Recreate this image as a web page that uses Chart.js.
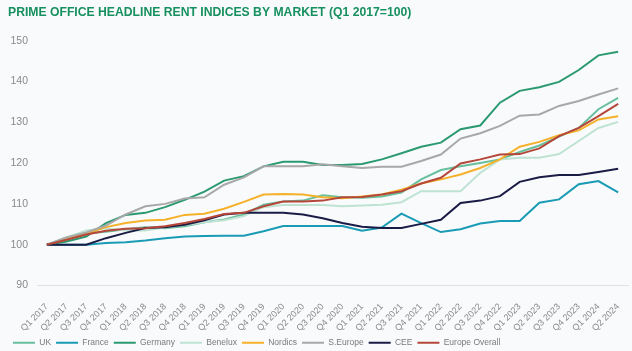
<!DOCTYPE html>
<html>
<head>
<meta charset="utf-8">
<script src="https://cdn.jsdelivr.net/npm/chart.js@4.4.1/dist/chart.umd.min.js"></script>
<style>
  html, body { margin: 0; padding: 0; background: #f9fafc; }
  #wrap { width: 632px; height: 351px; }
</style>
</head>
<body>
<div id="wrap"><canvas id="myChart" width="632" height="351"></canvas></div>
<script>
const quarters = [
  "Q1 2017", "Q2 2017", "Q3 2017", "Q4 2017", "Q1 2018", "Q2 2018", "Q3 2018", "Q4 2018",
  "Q1 2019", "Q2 2019", "Q3 2019", "Q4 2019", "Q1 2020", "Q2 2020", "Q3 2020", "Q4 2020",
  "Q1 2021", "Q2 2021", "Q3 2021", "Q4 2021", "Q1 2022", "Q2 2022", "Q3 2022", "Q4 2022",
  "Q1 2023", "Q2 2023", "Q3 2023", "Q4 2023", "Q1 2024", "Q2 2024"
];

const uk = [100, 101.8, 102.8, 103.2, 103.8, 104.3, 104, 104.5, 105.5, 106.2, 107.4, 109.8, 110.6, 110.8, 112.1, 111.6,
  111.5, 111.8, 112.8, 116, 118.3, 119.2, 120, 120.9, 122.7, 124.3, 126.5, 128.6, 133.2, 136];
const france = [100, 100, 100, 100.4, 100.6, 101, 101.6, 102, 102.1, 102.2, 102.2, 103.3, 104.6, 104.6, 104.6, 104.6,
  103.4, 104.2, 107.6, 105.3, 103.1, 103.8, 105.2, 105.8, 105.8, 110.3, 111.1, 114.8, 115.6, 112.8];
const germany = [100, 100.8, 102, 105.3, 107.3, 107.8, 109.2, 111, 113, 115.7, 116.8, 119.2, 120.3, 120.3, 119.5, 119.5,
  119.8, 120.9, 122.4, 124, 125, 128.3, 129.2, 134.8, 137.7, 138.6, 139.9, 142.8, 146.4, 147.3];
const benelux = [100, 101.8, 103.5, 104, 103.5, 103.5, 104.2, 104.8, 105.5, 106, 107, 109.2, 109.7, 109.7, 109.7, 109.4,
  109.6, 109.8, 110.4, 113.1, 113.1, 113.1, 117.6, 120.9, 121.3, 121.3, 122.2, 125.4, 128.6, 130.1];
const nordics = [100, 101.3, 102.7, 104.3, 105.3, 105.9, 106.1, 107.3, 107.6, 108.8, 110.5, 112.3, 112.4, 112.3, 111.6, 111.4,
  111.8, 112.3, 113.5, 115, 116, 117.2, 118.8, 120.9, 124, 125.2, 126.8, 128, 130.7, 131.5];
const sEurope = [100, 101.8, 103, 104.7, 107.4, 109.4, 110, 111.3, 111.6, 114.7, 116.5, 119.2, 119.2, 119.2, 119.7, 119.2,
  118.8, 119.1, 119.1, 120.5, 122.1, 126, 127.3, 129.1, 131.6, 131.9, 134, 135.2, 136.8, 138.3];
const cee = [100, 100, 100, 101.6, 102.9, 104.1, 104.3, 104.9, 106, 107.4, 107.8, 107.8, 107.8, 107.4, 106.5, 105.3,
  104.4, 104.1, 104.1, 105.1, 106.1, 110.2, 110.8, 111.9, 115.4, 116.5, 117.1, 117.1, 117.8, 118.6];
const europeOverall = [100, 101.2, 102.5, 103.4, 103.9, 104, 104.5, 105.3, 106.3, 107.5, 107.8, 109.4, 110.6, 110.6, 110.8, 111.6,
  111.7, 112.3, 113.1, 115, 116.4, 119.9, 120.9, 122.1, 122.2, 123.6, 126.6, 128.6, 131.5, 134.5];

const seriesNames = ["UK", "France", "Germany", "Benelux", "Nordics", "S.Europe", "CEE", "Europe Overall"];
const seriesValues = [uk, france, germany, benelux, nordics, sEurope, cee, europeOverall];
const seriesColors = ["#67bf9d", "#1a9bb5", "#2b9a70", "#bfe3d3", "#f5b12a", "#a8a8a8", "#1b1c46", "#b5473a"];

const yTicks = [90, 100, 110, 120, 130, 140, 150];

const ctx = document.getElementById("myChart");
const font = "'Liberation Sans', Arial, sans-serif";

const datasets = seriesNames.map((name, i) => ({
  label: name,
  data: seriesValues[i],
  borderColor: seriesColors[i],
  backgroundColor: seriesColors[i],
  borderWidth: 2,
  pointRadius: 0,
  tension: 0,
  fill: false,
  order: seriesNames.length - i,
}));

new Chart(ctx, {
  type: "line",
  data: { labels: quarters, datasets: datasets },
  options: {
    responsive: false,
    animation: false,
    layout: { padding: { left: 8, right: 4, top: 0, bottom: -6 } },
    plugins: {
      title: {
        display: true,
        text: "PRIME OFFICE HEADLINE RENT INDICES BY MARKET (Q1 2017=100)",
        align: "start",
        color: "#17905f",
        font: { family: font, size: 12.2, weight: "bold" },
        padding: { top: 5, bottom: 21 },
      },
      legend: {
        position: "bottom",
        align: "start",
        labels: {
          usePointStyle: true,
          pointStyle: "line",
          pointStyleWidth: 22,
          padding: 5,
          color: "#7a7a7a",
          font: { family: font, size: 8.5 },
          sort: (a, b) => a.datasetIndex - b.datasetIndex,
        },
      },
      tooltip: { enabled: false },
    },
    scales: {
      x: {
        offset: true,
        grid: { display: false },
        border: { display: true, color: "#e2e2e2", width: 1 },
        ticks: {
          color: "#8a8a8a",
          font: { family: font, size: 9 },
          minRotation: 45,
          maxRotation: 45,
          autoSkip: false,
          padding: 8,
        },
        afterFit: (s) => {
          s.height = 48;
          s.paddingLeft = 0;
          s.paddingRight = 0;
        },
      },
      y: {
        min: 90,
        max: 150,
        afterBuildTicks: (scale) => {
          scale.ticks = yTicks.map((v) => ({ value: v }));
        },
        afterFit: (s) => {
          s.width = 29;
        },
        grid: { display: false, drawTicks: false },
        border: { display: false },
        ticks: {
          color: "#8a8a8a",
          font: { family: font, size: 10.5 },
          padding: 9,
        },
      },
    },
  },
});
</script>
</body>
</html>
